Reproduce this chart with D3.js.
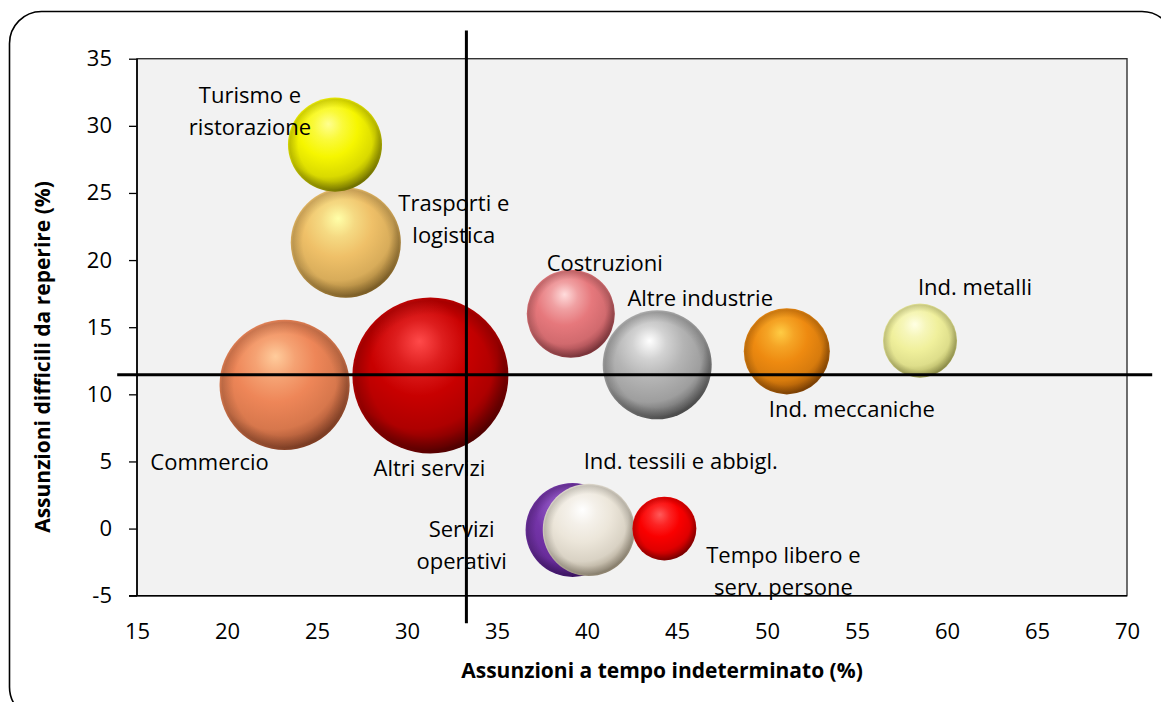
<!DOCTYPE html>
<html>
<head>
<meta charset="utf-8">
<script src="https://cdn.jsdelivr.net/npm/d3@7"></script>
<style>
  html, body { margin: 0; padding: 0; background: #ffffff; }
  svg { display: block; }
  text { font-family: "Open Sans", "Noto Sans", sans-serif; fill: #000; }
</style>
</head>
<body>
<svg id="chart" width="1161" height="702"></svg>
<script>
// ---------------- DATA ----------------
const categories = [
  "Altri servizi", "Commercio", "Trasporti e logistica", "Turismo e ristorazione",
  "Costruzioni", "Altre industrie", "Ind. meccaniche", "Ind. metalli",
  "Servizi operativi", "Ind. tessili e abbigl.", "Tempo libero e serv. persone"
];
// Assunzioni a tempo indeterminato (%)
const xValues = [31.3, 23.2, 26.6, 26.0, 39.1, 43.9, 51.1, 58.5, 39.2, 40.1, 44.3];
// Assunzioni difficili da reperire (%)
const yValues = [11.4, 10.7, 21.3, 28.6, 16.0, 12.2, 13.2, 14.0, -0.1, -0.1, 0.0];
// Bubble size (volume di assunzioni)
const sizes = [6080, 4230, 3030, 2210, 1940, 2970, 1850, 1370, 2210, 2120, 1020];
// Label text as displayed (line breaks)
const labelLines = [
  ["Altri servizi"], ["Commercio"], ["Trasporti e", "logistica"], ["Turismo e", "ristorazione"],
  ["Costruzioni"], ["Altre industrie"], ["Ind. meccaniche"], ["Ind. metalli"],
  ["Servizi", "operativi"], ["Ind. tessili e abbigl."], ["Tempo libero e", "serv. persone"]
];
const xTicks = [15, 20, 25, 30, 35, 40, 45, 50, 55, 60, 65, 70];
const yTicks = [-5, 0, 5, 10, 15, 20, 25, 30, 35];
// Reference (average) lines
const avgX = 33.3;
const avgY = 11.45;
const avgXExtent = [-7.06, 37.1];
const avgYExtent = [13.9, 71.4];

const xTitle = "Assunzioni a tempo indeterminato (%)";
const yTitle = "Assunzioni difficili da reperire (%)";

// ---------------- STYLE ----------------
// [light, base, dark]
const bubbleColors = [
  ["#ff4a4a", "#c80000", "#3a0000"],
  ["#ffcc9c", "#ee8658", "#6e3018"],
  ["#ffffa8", "#efc068", "#6e5018"],
  ["#ffff90", "#f6f600", "#5c5c00"],
  ["#ffdcdc", "#e6787c", "#702830"],
  ["#ffffff", "#b4b4b4", "#383838"],
  ["#ffcc44", "#ee8a10", "#6e3400"],
  ["#ffffe4", "#f0f09c", "#8a8a3c"],
  ["#b888e8", "#7434a8", "#300858"],
  ["#ffffff", "#ece6da", "#857860"],
  ["#ff5a5a", "#fa0000", "#6a0000"]
];
// label offsets from bubble centre, px (dx, dy of first line)
const labelOffsets = [
  [-1, 93], [-75, 77], [108, -39], [-85, -49],
  [34, -50], [43, -66], [65, 58], [55, -53.5],
  [-111, -1], [92, -69], [119, 26.5]
];
const lineStep = 32;

const plot = { left: 137, right: 1127, top: 58.7, bottom: 595.7 };

const svg = d3.select("#chart");

// outer rounded frame
svg.append("rect")
  .attr("x", 9.5).attr("y", 11.5)
  .attr("width", 1164.5).attr("height", 707.5)
  .attr("rx", 32).attr("ry", 32)
  .attr("fill", "#ffffff").attr("stroke", "#000").attr("stroke-width", 1.6);

const x = d3.scaleLinear().domain([15, 70]).range([plot.left, plot.right]);
const y = d3.scaleLinear().domain([-5, 35]).range([plot.bottom, plot.top]);
const r = d3.scaleSqrt().domain([0, d3.max(sizes)]).range([0, 78]);

// plot background
svg.append("rect")
  .attr("x", plot.left).attr("y", plot.top)
  .attr("width", plot.right - plot.left).attr("height", plot.bottom - plot.top)
  .attr("fill", "#f2f2f2");

// gradients
const defs = svg.append("defs");
bubbleColors.forEach((c, i) => {
  const g = defs.append("radialGradient").attr("id", "sph" + i)
    .attr("cx", 0.42).attr("cy", 0.36).attr("r", 0.7)
    .attr("fx", 0.43).attr("fy", 0.28);
  const mid = d3.interpolateRgb(c[1], c[2]);
  g.append("stop").attr("offset", "0%").attr("stop-color", c[0]);
  g.append("stop").attr("offset", "22%").attr("stop-color", d3.interpolateRgb(c[0], c[1])(0.6));
  g.append("stop").attr("offset", "45%").attr("stop-color", c[1]);
  g.append("stop").attr("offset", "72%").attr("stop-color", mid(0.18));
  g.append("stop").attr("offset", "89%").attr("stop-color", mid(0.6));
  g.append("stop").attr("offset", "100%").attr("stop-color", c[2]);
});
const rim = defs.append("radialGradient").attr("id", "rim")
  .attr("cx", 0.5).attr("cy", 0.5).attr("r", 0.5);
rim.append("stop").attr("offset", "78%").attr("stop-color", "#000").attr("stop-opacity", 0);
rim.append("stop").attr("offset", "96%").attr("stop-color", "#000").attr("stop-opacity", 0.16);
rim.append("stop").attr("offset", "100%").attr("stop-color", "#000").attr("stop-opacity", 0.05);

// y axis
const yAxis = svg.append("g")
  .attr("transform", `translate(${plot.left},0)`)
  .call(d3.axisLeft(y).tickValues(yTicks).tickSize(8).tickPadding(17).tickFormat(d => String(d)));
yAxis.select(".domain").remove();
yAxis.selectAll(".tick line").attr("stroke", "#000").attr("stroke-width", 1.3);
yAxis.selectAll(".tick text").style("font-size", "22px").attr("fill", "#000");

// x axis
const xAxis = svg.append("g")
  .attr("transform", `translate(0,${plot.bottom})`)
  .call(d3.axisBottom(x).tickValues(xTicks).tickSize(0).tickFormat(d => String(d)));
xAxis.select(".domain").remove();
xAxis.selectAll(".tick text").style("font-size", "22px").attr("fill", "#000")
  .attr("y", 35.5).attr("dy", "0.35em");

// bubbles
const data = categories.map((c, i) => ({
  name: c, x: xValues[i], y: yValues[i], s: sizes[i], i
}));
const bub = svg.append("g");
data.forEach(d => {
  bub.append("circle")
    .attr("cx", x(d.x)).attr("cy", y(d.y)).attr("r", r(d.s))
    .attr("fill", `url(#sph${d.i})`);
  bub.append("circle")
    .attr("cx", x(d.x)).attr("cy", y(d.y)).attr("r", r(d.s))
    .attr("fill", "url(#rim)");
});

// plot border
svg.append("rect")
  .attr("x", plot.left).attr("y", plot.top)
  .attr("width", plot.right - plot.left).attr("height", plot.bottom - plot.top)
  .attr("fill", "none").attr("stroke", "#333").attr("stroke-width", 1.4);
svg.append("line")
  .attr("x1", plot.left).attr("x2", plot.left).attr("y1", plot.top).attr("y2", plot.bottom)
  .attr("stroke", "#000").attr("stroke-width", 1.6);
svg.append("line")
  .attr("x1", plot.left - 8).attr("x2", plot.right).attr("y1", plot.bottom).attr("y2", plot.bottom)
  .attr("stroke", "#000").attr("stroke-width", 1.6);

// labels
const lab = svg.append("g");
data.forEach(d => {
  const [dx, dy] = labelOffsets[d.i];
  const cx = x(d.x) + dx, cy = y(d.y) + dy;
  labelLines[d.i].forEach((t, k) => {
    lab.append("text")
      .attr("x", cx).attr("y", cy + k * lineStep)
      .attr("dy", "0.35em")
      .attr("text-anchor", "middle")
      .style("font-size", "22px")
      .text(t);
  });
});

// reference lines
svg.append("line")
  .attr("x1", x(avgX)).attr("x2", x(avgX))
  .attr("y1", y(avgXExtent[0])).attr("y2", y(avgXExtent[1]))
  .attr("stroke", "#000").attr("stroke-width", 3);
svg.append("line")
  .attr("x1", x(avgYExtent[0])).attr("x2", x(avgYExtent[1]))
  .attr("y1", y(avgY)).attr("y2", y(avgY))
  .attr("stroke", "#000").attr("stroke-width", 3);

// axis titles
svg.append("text")
  .attr("x", 662).attr("y", 671).attr("dy", "0.35em")
  .attr("text-anchor", "middle")
  .style("font-size", "21px").style("font-weight", "bold")
  .text(xTitle);
svg.append("text")
  .attr("transform", "translate(43,357) rotate(-90)")
  .attr("dy", "0.35em")
  .attr("text-anchor", "middle")
  .style("font-size", "21px").style("font-weight", "bold")
  .text(yTitle);
</script>
</body>
</html>
